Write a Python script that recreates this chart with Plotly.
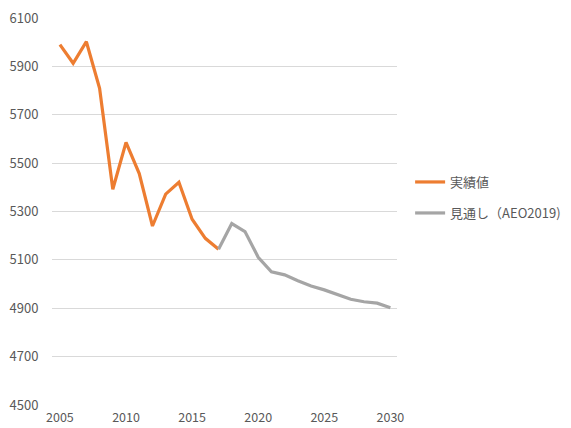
import plotly.graph_objects as go

# Actual values (2005-2017)
years_actual = list(range(2005, 2018))
actual = [5990, 5913, 6002, 5809, 5392, 5586, 5457, 5240, 5372, 5421, 5268, 5189, 5144]

# Projection, AEO2019 (2017-2030)
years_proj = list(range(2017, 2031))
projection = [5144, 5250, 5217, 5111, 5051, 5038, 5014, 4992, 4976, 4958, 4937, 4927, 4921, 4902]

x_ticks = [2005, 2010, 2015, 2020, 2025, 2030]
y_ticks = [4500, 4700, 4900, 5100, 5300, 5500, 5700, 5900, 6100]

label_actual = "実績値"
label_proj = "見通し（AEO2019)"

font_family = "Noto Sans CJK JP, Noto Sans, sans-serif"
text_color = "#595959"

fig = go.Figure()
fig.add_trace(go.Scatter(
    x=years_actual, y=actual, mode="lines", name=label_actual,
    line=dict(color="#ED7D31", width=3.2), legend="legend", showlegend=True,
))
fig.add_trace(go.Scatter(
    x=years_proj, y=projection, mode="lines", name=label_proj,
    line=dict(color="#A5A5A5", width=3.2), legend="legend2", showlegend=True,
))

legend_style = dict(
    font=dict(family=font_family, size=13, color=text_color),
    bgcolor="rgba(0,0,0,0)", itemwidth=30,
    xanchor="left", yanchor="middle", x=1.038,
)

fig.update_layout(
    width=571, height=428,
    margin=dict(l=52, r=174, t=18, b=23, autoexpand=False),
    paper_bgcolor="white", plot_bgcolor="white",
    showlegend=True,
    font=dict(family=font_family, size=13, color=text_color),
    xaxis=dict(
        range=[2004.4, 2030.5], tickvals=x_ticks, showgrid=False,
        zeroline=False, showline=False, ticks="outside", ticklen=1,
        tickcolor="rgba(0,0,0,0)", automargin=False,
        tickfont=dict(size=12.5, color=text_color),
    ),
    yaxis=dict(
        range=[4500, 6100], tickvals=y_ticks, showgrid=True,
        gridcolor="#D9D9D9", gridwidth=1.2, zeroline=False, showline=False,
        ticks="outside", ticklen=10, tickcolor="rgba(0,0,0,0)", automargin=False,
        tickfont=dict(size=13, color=text_color),
    ),
    legend=dict(y=1 - (182 - 18) / 387, **legend_style),
    legend2=dict(y=1 - (213 - 18) / 387, **legend_style),
)

fig.write_html("out.html")
